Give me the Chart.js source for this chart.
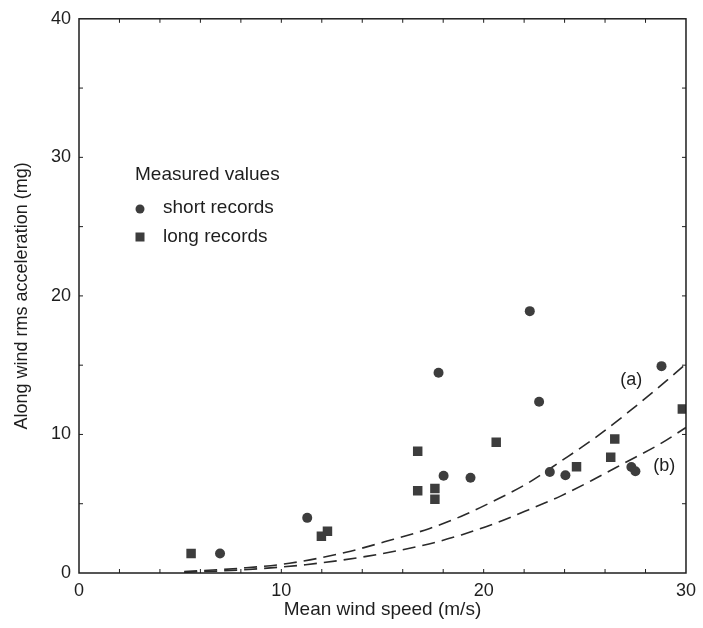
<!DOCTYPE html>
<html>
<head>
<meta charset="utf-8">
<script src="https://cdn.jsdelivr.net/npm/chart.js@4.4.1/dist/chart.umd.min.js"></script>
<style>
    html, body { margin: 0; padding: 0; background: #fff; }
    #wrap { width: 703px; height: 628px; }
</style>
</head>
<body>
<div id="wrap"><canvas id="windChart" width="703" height="628"></canvas></div>
<script>
// measured points
const shortSpeed = [6.97, 11.28, 17.77, 18.02, 19.35, 22.28, 22.74, 23.27, 24.04, 27.3, 27.5, 28.79];
const shortAccel = [1.41, 3.98, 14.45, 7.02, 6.88, 18.9, 12.36, 7.29, 7.05, 7.65, 7.35, 14.93];
const longSpeed = [5.54, 11.98, 12.28, 16.74, 16.74, 17.59, 17.59, 20.62, 24.59, 26.28, 26.48, 29.82];
const longAccel = [1.41, 2.66, 3.02, 8.79, 5.93, 6.1, 5.33, 9.44, 7.67, 8.36, 9.67, 11.84];

// dashed curves (a) and (b)
const curveASpeed = [5.2, 8, 10.4, 13.2, 15.1, 17.3, 18.9, 20.5, 22.2, 23.8, 25.5, 27.1, 29.1, 30];
const curveAAccel = [0.1, 0.35, 0.7, 1.5, 2.25, 3.2, 4.1, 5.2, 6.5, 8.05, 9.75, 11.55, 13.95, 15.1];
const curveBSpeed = [5.2, 8, 11.2, 14.2, 17.3, 18.9, 20.5, 22.2, 23.8, 25.5, 27.1, 28.7, 30];
const curveBAccel = [0.05, 0.22, 0.6, 1.2, 2.1, 2.75, 3.55, 4.55, 5.55, 6.8, 8.05, 9.3, 10.5];

const xTicks = [0, 10, 20, 30];
const yTicks = [0, 10, 20, 30, 40];

const legendTitle = 'Measured values';
const legendLabels = ['short records', 'long records'];
const curveLabels = ['(a)', '(b)'];
const curveLabelSpeed = [27.3, 28.92];
const curveLabelAccel = [13.9, 7.71];

const ink = '#1e1e1e';
const markColor = '#3d3d3d';
const fontFamily = '"Liberation Sans", Arial, Helvetica, sans-serif';

function toPoints(xs, ys) {
    return xs.map(function (x, i) { return { x: x, y: ys[i] }; });
}

// box frame with small inward ticks on all four sides
const framePlugin = {
    id: 'frame',
    afterDatasetsDraw(chart) {
        const ctx = chart.ctx;
        const a = chart.chartArea;
        const xs = chart.scales.x;
        const ys = chart.scales.y;
        ctx.save();
        ctx.strokeStyle = ink;
        ctx.lineWidth = 1.5;
        ctx.strokeRect(a.left, a.top, a.right - a.left, a.bottom - a.top);
        ctx.lineWidth = 1;
        ctx.beginPath();
        for (let v = 2; v < 30; v += 2) {
            const px = xs.getPixelForValue(v);
            ctx.moveTo(px, a.bottom); ctx.lineTo(px, a.bottom - 4);
            ctx.moveTo(px, a.top); ctx.lineTo(px, a.top + 4);
        }
        for (let v = 5; v < 40; v += 5) {
            const py = ys.getPixelForValue(v);
            ctx.moveTo(a.left, py); ctx.lineTo(a.left + 4, py);
            ctx.moveTo(a.right, py); ctx.lineTo(a.right - 4, py);
        }
        ctx.stroke();
        ctx.restore();
    }
};

// legend inside the plot and curve labels
const notesPlugin = {
    id: 'notes',
    afterDraw(chart) {
        const ctx = chart.ctx;
        const a = chart.chartArea;
        const xs = chart.scales.x;
        const ys = chart.scales.y;
        ctx.save();
        ctx.fillStyle = ink;
        ctx.textBaseline = 'middle';
        ctx.textAlign = 'left';
        ctx.font = '19px ' + fontFamily;
        const lx = a.left + 56;
        ctx.fillText(legendTitle, lx, 175);
        ctx.fillText(legendLabels[0], lx + 28, 208);
        ctx.fillText(legendLabels[1], lx + 28, 237);
        ctx.fillStyle = markColor;
        ctx.beginPath();
        ctx.arc(lx + 5, 209, 4.5, 0, Math.PI * 2);
        ctx.fill();
        ctx.fillRect(lx + 0.5, 232.5, 9, 9);

        ctx.fillStyle = ink;
        ctx.textAlign = 'center';
        ctx.font = '18px ' + fontFamily;
        curveLabels.forEach(function (t, i) {
            ctx.fillText(t, xs.getPixelForValue(curveLabelSpeed[i]), ys.getPixelForValue(curveLabelAccel[i]));
        });
        ctx.restore();
    }
};

const ctx = document.getElementById('windChart').getContext('2d');

new Chart(ctx, {
    type: 'scatter',
    data: {
        datasets: [
            {
                label: 'short records',
                data: toPoints(shortSpeed, shortAccel),
                pointStyle: 'circle',
                pointRadius: 5,
                backgroundColor: markColor,
                borderColor: markColor,
                borderWidth: 0
            },
            {
                label: 'long records',
                data: toPoints(longSpeed, longAccel),
                pointStyle: 'rect',
                pointRadius: 6.7,
                backgroundColor: markColor,
                borderColor: markColor,
                borderWidth: 0
            },
            {
                label: '(a)',
                type: 'line',
                data: toPoints(curveASpeed, curveAAccel),
                showLine: true,
                pointRadius: 0,
                borderColor: '#2a2a2a',
                borderWidth: 1.6,
                borderDash: [13, 7],
                cubicInterpolationMode: 'monotone',
                fill: false
            },
            {
                label: '(b)',
                type: 'line',
                data: toPoints(curveBSpeed, curveBAccel),
                showLine: true,
                pointRadius: 0,
                borderColor: '#2a2a2a',
                borderWidth: 1.6,
                borderDash: [13, 7],
                cubicInterpolationMode: 'monotone',
                fill: false
            }
        ]
    },
    options: {
        responsive: false,
        animation: false,
        layout: {
            padding: { left: 0, right: 14, top: 13, bottom: 0 }
        },
        plugins: {
            legend: { display: false },
            tooltip: { enabled: false }
        },
        scales: {
            x: {
                type: 'linear',
                min: 0,
                max: 30,
                afterFit: function (scale) { scale.height = 55; },
                afterBuildTicks: function (scale) {
                    scale.ticks = xTicks.map(function (v) { return { value: v }; });
                },
                grid: { display: false, drawTicks: false },
                border: { display: false },
                ticks: {
                    color: ink,
                    padding: 7,
                    maxRotation: 0,
                    font: { family: fontFamily, size: 18 }
                },
                title: {
                    display: true,
                    text: 'Mean wind speed (m/s)',
                    color: ink,
                    padding: { top: 0, bottom: 7 },
                    font: { family: fontFamily, size: 19 }
                }
            },
            y: {
                type: 'linear',
                min: 0,
                max: 40,
                afterFit: function (scale) { scale.width = 79; },
                afterBuildTicks: function (scale) {
                    scale.ticks = yTicks.map(function (v) { return { value: v }; });
                },
                grid: { display: false, drawTicks: false },
                border: { display: false },
                ticks: {
                    color: ink,
                    padding: 8,
                    font: { family: fontFamily, size: 18 }
                },
                title: {
                    display: true,
                    text: 'Along wind rms acceleration (mg)',
                    color: ink,
                    padding: { top: 11, bottom: 0 },
                    font: { family: fontFamily, size: 18 }
                }
            }
        }
    },
    plugins: [framePlugin, notesPlugin]
});
</script>
</body>
</html>
